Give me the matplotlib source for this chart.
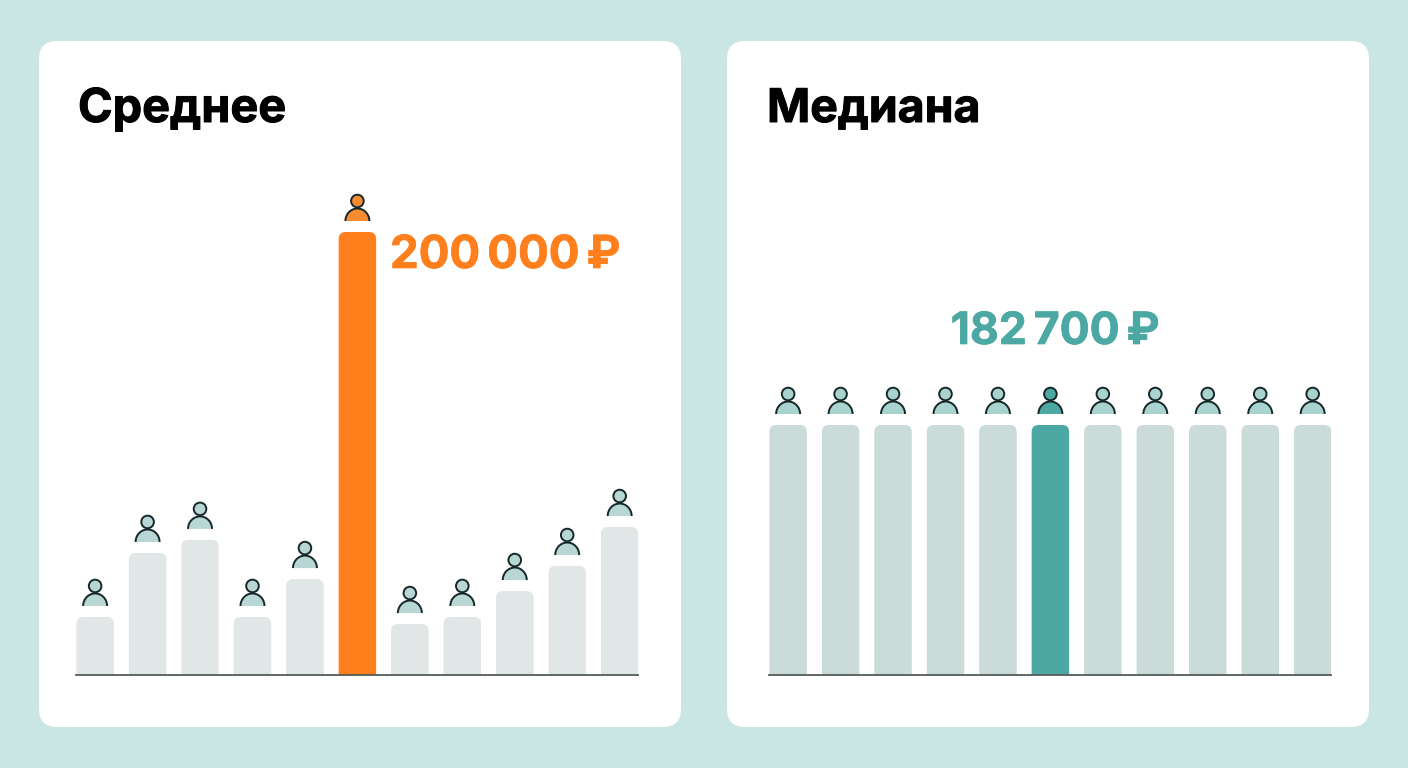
import matplotlib
matplotlib.use("Agg")
import matplotlib.pyplot as plt
import matplotlib.patheffects as pe
from matplotlib.patches import Circle, FancyBboxPatch, PathPatch
from matplotlib.path import Path
from matplotlib.transforms import Affine2D

W, H = 1408, 768

# Monthly income of eleven people, rubles
mean_income = [26200, 55100, 61000, 26200, 43300, 200000, 23000, 26200, 37900, 49200, 66800]
median_income = [182700] * 11
mean_title = "Среднее"
median_title = "Медиана"
mean_label = "200\u2009000\u2009₽"
median_label = "182\u2009700\u2009₽"
highlight = 5

BG = "#C9E6E5"
INK = "#16272A"
ORANGE = "#FF7F1C"
TEAL = "#4BA8A2"
FONT = ["Inter", "DejaVu Sans"]

fig = plt.figure(figsize=(W / 100, H / 100), dpi=100, facecolor=BG)
canvas = fig.add_axes([0, 0, 1, 1], zorder=0)
canvas.set_xlim(0, W)
canvas.set_ylim(H, 0)
canvas.axis("off")

for left in (39, 727):
    canvas.add_patch(FancyBboxPatch((left + 18, 41 + 18), 642 - 36, 686 - 36,
                                    boxstyle="round,pad=18,rounding_size=18",
                                    fc="white", ec="none"))


def rounded_bar(ax, x, value, width, color, radius_px=7):
    """Bar with rounded top corners, sized in data units."""
    x0, x1 = x - width / 2, x + width / 2
    sx = ax.transData.transform((1, 0))[0] - ax.transData.transform((0, 0))[0]
    sy = ax.transData.transform((0, 1))[1] - ax.transData.transform((0, 0))[1]
    rx, ry = radius_px / sx, radius_px / sy
    verts = [(x0, 0), (x0, value - ry), (x0, value), (x0 + rx, value),
             (x1 - rx, value), (x1, value), (x1, value - ry), (x1, 0), (x0, 0)]
    codes = [Path.MOVETO, Path.LINETO, Path.CURVE3, Path.CURVE3,
             Path.LINETO, Path.CURVE3, Path.CURVE3, Path.LINETO, Path.CLOSEPOLY]
    ax.add_patch(PathPatch(Path(verts, codes), fc=color, ec="none", zorder=2))


def person(ax, x, value, fill):
    """Small person icon standing above a bar; geometry in pixels."""
    px, py = ax.transData.transform((x, value))
    tr = Affine2D().translate(px, py)
    hw, base, top = 12.0, 11.0, 23.5
    k = 0.5523
    rise = top - base
    shoulders = Path([(-hw, base), (-hw, base + k * rise), (-k * hw, top), (0, top),
                      (k * hw, top), (hw, base + k * rise), (hw, base)],
                     [Path.MOVETO, Path.CURVE4, Path.CURVE4, Path.CURVE4,
                      Path.CURVE4, Path.CURVE4, Path.CURVE4])
    ax.add_patch(PathPatch(shoulders, fc=fill, ec="none", transform=tr, clip_on=False, zorder=3))
    ax.add_patch(PathPatch(shoulders, fc="none", ec=INK, lw=1.4, transform=tr,
                           clip_on=False, zorder=4, capstyle="butt"))
    ax.add_patch(Circle((0, 31), 6.3, fc=fill, ec=INK, lw=1.4, transform=tr,
                        clip_on=False, zorder=4))


def panel(left_px, values, per_px, base_color, icon_color, hi_color, hi_icon):
    height_px = 500
    ax = fig.add_axes([(left_px + 0.4) / W, (H - 675) / H, 562 / W, height_px / H], zorder=1)
    ax.patch.set_alpha(0)
    ax.set_xlim(-0.357, len(values) - 1 + 0.357)
    ax.set_ylim(0, height_px * per_px)
    for s in ("top", "left", "right"):
        ax.spines[s].set_visible(False)
    ax.spines["bottom"].set_color("#555B5C")
    ax.spines["bottom"].set_linewidth(1.3)
    ax.set_xticks([])
    ax.set_yticks([])
    for i, v in enumerate(values):
        hi = i == highlight
        rounded_bar(ax, i, v, 0.715, hi_color if hi else base_color)
        person(ax, i, v, hi_icon if hi else icon_color)
    return ax


panel(76, mean_income, 200000 / 443, "#E0E7E6", "#B8D6D3", ORANGE, "#F98B30")
panel(769, median_income, 182700 / 250, "#CADBDA", "#A9D3CE", TEAL, TEAL)

heavy = [pe.withStroke(linewidth=0.7, foreground="black")]
canvas.text(78, 122, mean_title, fontsize=33.7, fontweight="bold", family=FONT,
            color="black", va="baseline", path_effects=heavy)
canvas.text(767, 122, median_title, fontsize=33.4, fontweight="bold", family=FONT,
            color="black", va="baseline", path_effects=heavy)
canvas.text(390, 268, mean_label, fontsize=32.8, fontweight="bold", family=FONT, color=ORANGE, va="baseline",
            path_effects=[pe.withStroke(linewidth=0.5, foreground=ORANGE)])
canvas.text(1055, 344, median_label, fontsize=32, fontweight="bold", family=FONT, color=TEAL, va="baseline", ha="center",
            path_effects=[pe.withStroke(linewidth=0.5, foreground=TEAL)])

fig.savefig("out.png", dpi=100, facecolor=BG)
